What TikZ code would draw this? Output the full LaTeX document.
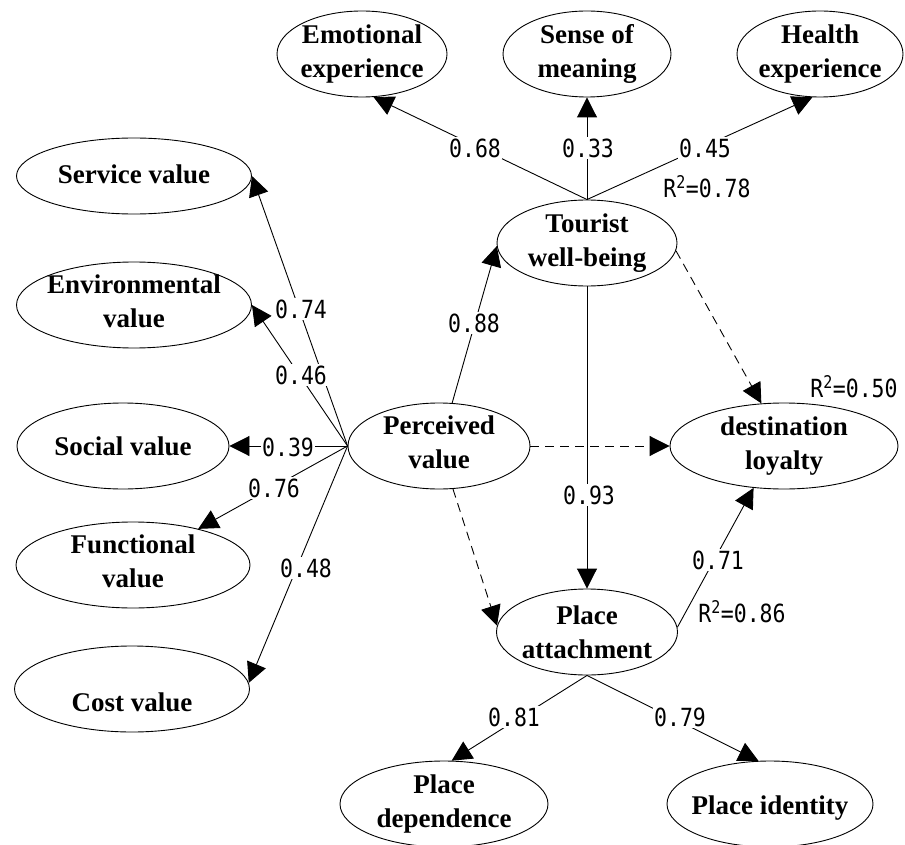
\documentclass[tikz,border=0pt]{standalone}
\usepackage{fontspec}
\usepackage{graphicx}
\setmainfont{Liberation Serif}
\newfontfamily\numfont{DejaVu Sans Mono}
\usetikzlibrary{shapes.geometric,arrows.meta}
\newcommand\numtxt[1]{\scalebox{0.86}[1]{#1}}
\tikzset{
  ell/.style 2 args={ellipse, draw, line width=0.9pt, minimum width=#1pt, minimum height=#2pt, inner sep=0pt},
  vtxt/.style={font=\fontsize{27}{34}\selectfont\bfseries, align=center, inner sep=0pt},
  num/.style={font=\fontsize{25}{28}\selectfont\numfont, fill=white, inner sep=1.5pt},
  rsq/.style={font=\fontsize{25}{28}\selectfont\numfont, inner sep=0pt},
  arr/.style={line width=0.9pt, -{Triangle[length=20pt,width=20pt]}},
  darr/.style={arr, dash pattern=on 9pt off 6pt},
}
\begin{document}
\begin{tikzpicture}[x=1pt,y=-1pt]
\useasboundingbox (0,0) rectangle (905,845);
% nodes
\node[ell={170}{86}, label={[vtxt]center:{Emotional\\experience}}] (ee) at (362,54) {};
\node[ell={168}{86}, label={[vtxt]center:{Sense of\\meaning}}] (sm) at (587,54) {};
\node[ell={166}{86}, label={[vtxt]center:{Health\\experience}}] (he) at (820,54) {};
\node[ell={180}{86}, label={[vtxt]center:{Tourist\\well-being}}] (tw) at (587,243) {};
\node[ell={235}{76}, label={[vtxt,yshift=2pt]center:{Service value}}] (sv) at (134,176) {};
\node[ell={235}{86}, label={[vtxt,yshift=4pt]center:{Environmental\\value}}] (ev) at (134,305) {};
\node[ell={212}{86}, label={[vtxt]center:{Social value}}] (so) at (123,446) {};
\node[ell={234}{86}, label={[vtxt,yshift=4pt]center:{Functional\\value}}] (fv) at (133,565) {};
\node[ell={235}{86}, label={[vtxt,yshift=-13pt]center:{Cost value}}] (cv) at (132,689) {};
\node[ell={182}{86}, label={[vtxt,yshift=4pt]center:{Perceived\\value}}] (pv) at (439,446) {};
\node[ell={228}{86}, label={[vtxt]center:{destination\\loyalty}}] (dl) at (784,446) {};
\node[ell={181}{86}, label={[vtxt]center:{Place\\attachment}}] (pa) at (587,632) {};
\node[ell={208}{86}, label={[vtxt]center:{Place\\dependence}}] (pd) at (444,804) {};
\node[ell={206}{86}, label={[vtxt,yshift=-4pt]center:{Place identity}}] (pi) at (770,804) {};
% connectors
\draw[arr] (tw.north) -- (ee.-75);
\draw[arr] (tw.north) -- (sm.south);
\draw[arr] (tw.north) -- (he.-100);
\draw[arr] (pv.west) -- (sv.east);
\draw[arr] (pv.west) -- (ev.east);
\draw[arr] (pv.west) -- (so.east);
\draw[arr] (pv.west) -- (fv.29);
\draw[arr] (pv.west) -- (cv.3);
\draw[arr] (pv.73) -- (tw.182);
\draw[arr] (tw.south) -- (pa.north);
\draw[darr] (tw.-5) -- (dl.118);
\draw[darr] (pv.east) -- (dl.west);
\draw[darr] (pv.-72) -- (pa.176);
\draw[arr] (pa.3) -- (dl.-126);
\draw[arr] (pa.south) -- (pd.80);
\draw[arr] (pa.south) -- (pi.105);
% coefficient labels
\node[num] (n68) at (475,148) {\numtxt{0.68}};
\node[num] (n33) at (588,148) {\numtxt{0.33}};
\node[num] (n45) at (705,148) {\numtxt{0.45}};
\node[num] (n74) at (301,309) {\numtxt{0.74}};
\node[num] (n46) at (301,375) {\numtxt{0.46}};
\node[num] (n39) at (288,447) {\numtxt{0.39}};
\node[num] (n76) at (274,488) {\numtxt{0.76}};
\node[num] (n48) at (306,568) {\numtxt{0.48}};
\node[num] (n88) at (474,323) {\numtxt{0.88}};
\node[num] (n93) at (589,495) {\numtxt{0.93}};
\node[num] (n71) at (718,560) {\numtxt{0.71}};
\node[num] (n81) at (514,717) {\numtxt{0.81}};
\node[num] (n79) at (680,717) {\numtxt{0.79}};
\node[rsq] (r78) at (707,187) {\numtxt{R\textsuperscript{2}=0.78}};
\node[rsq] (r50) at (854,387) {\numtxt{R\textsuperscript{2}=0.50}};
\node[rsq] (r86) at (742,612) {\numtxt{R\textsuperscript{2}=0.86}};
\end{tikzpicture}
\end{document}
